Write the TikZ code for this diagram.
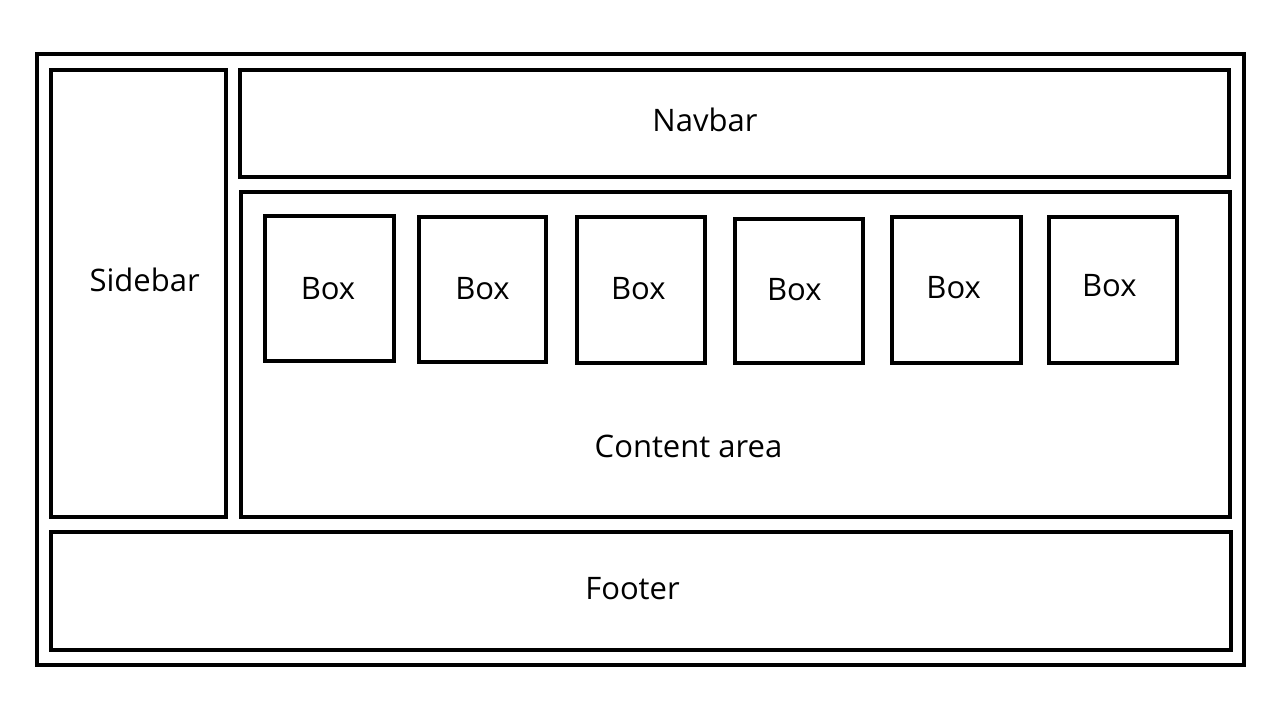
\documentclass[tikz,border=0pt]{standalone}
\usepackage{fontspec}
\setmainfont{Open Sans}
\begin{document}
\begin{tikzpicture}[x=1pt,y=-1pt,
  frame/.style={draw=black, line width=4pt, rectangle, inner sep=0pt, outer sep=0pt},
  lbl/.style={anchor=base, inner sep=0pt, font=\fontsize{31}{36}\selectfont}]
\useasboundingbox (0,0) rectangle (1280,720);
% outer frame
\node[frame, minimum width=1207pt, minimum height=610.7pt] (outer) at (640.5,359.3) {};
% regions
\node[frame, minimum width=174.4pt, minimum height=446.7pt] (sidebar) at (138.5,293.3) {};
\node[frame, minimum width=988.7pt, minimum height=107pt] (navbar) at (734.7,123.5) {};
\node[frame, minimum width=988.5pt, minimum height=324.6pt] (content) at (735.3,354.3) {};
\node[frame, minimum width=1179.4pt, minimum height=118pt] (footer) at (641,591) {};
% boxes
\node[frame, minimum width=128.7pt, minimum height=145pt] (b1) at (329.7,288.5) {};
\node[frame, minimum width=127pt, minimum height=145pt] (b2) at (482.5,289.5) {};
\node[frame, minimum width=128pt, minimum height=145.7pt] (b3) at (641.3,289.9) {};
\node[frame, minimum width=128.3pt, minimum height=144.3pt] (b4) at (798.9,290.9) {};
\node[frame, minimum width=128.7pt, minimum height=145.4pt] (b5) at (956.4,290) {};
\node[frame, minimum width=128pt, minimum height=146.3pt] (b6) at (1113.3,289.9) {};
% labels
\node[lbl] (tnav) at (705,131) {Navbar};
\node[lbl] (tside) at (144.7,291) {Sidebar};
\node[lbl] (tcont) at (688.5,457.3) {Content area};
\node[lbl] (tfoot) at (632.5,599.7) {Footer};
\node[lbl] (tb1) at (328,299.3) {Box};
\node[lbl] (tb2) at (482.5,299.5) {Box};
\node[lbl] (tb3) at (638.3,299) {Box};
\node[lbl] (tb4) at (794.3,300) {Box};
\node[lbl] (tb5) at (953.7,298.3) {Box};
\node[lbl] (tb6) at (1109.3,296) {Box};
\end{tikzpicture}
\end{document}
